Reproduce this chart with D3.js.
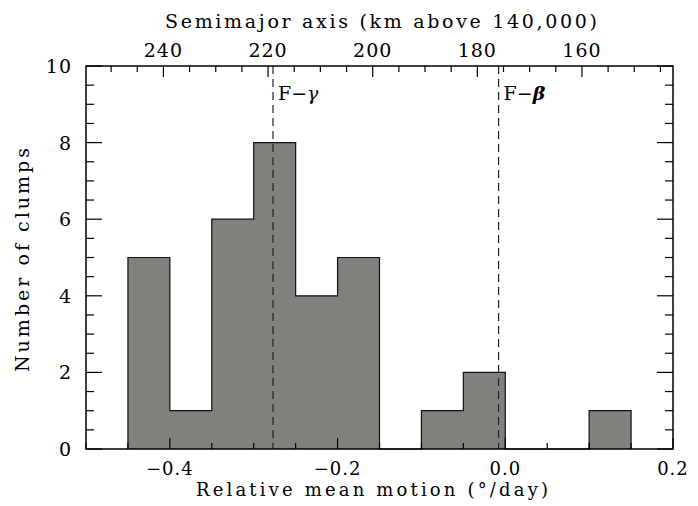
<!DOCTYPE html>
<html>
<head>
<meta charset="utf-8">
<script src="https://cdn.jsdelivr.net/npm/d3@7"></script>
<style>
  html, body { margin: 0; padding: 0; background: #fff; }
  svg text { font-family: "DejaVu Serif", serif; fill: #000; }
</style>
</head>
<body>
<svg id="chart" width="698" height="506"></svg>
<script>
// Histogram of clump positions relative to the F ring
const binStarts = [-0.45, -0.40, -0.35, -0.30, -0.25, -0.20, -0.15, -0.10, -0.05, 0.00, 0.05, 0.10];
const binCounts = [5, 1, 6, 8, 4, 5, 0, 1, 2, 0, 0, 1];
const binWidth = 0.05;

// Strand reference positions (relative mean motion, deg/day)
const strandNames = ["γ", "β"];
const strandPositions = [-0.277, -0.008];

// Axis ranges and tick values
const motionDomain = [-0.5, 0.2];
const motionMajorTicks = [-0.4, -0.2, 0.0, 0.2];
const motionTickLabels = ["\u22120.4", "\u22120.2", "0.0", "0.2"];
const countDomain = [0, 10];
const countMajorTicks = [0, 2, 4, 6, 8, 10];
const axisKmDomain = [254.8, 142.6];   // semimajor axis (km above 140,000) at the plot edges
const axisKmMajorTicks = [240, 220, 200, 180, 160];

const svg = d3.select("#chart");
const margin = { left: 86, right: 25, top: 66, bottom: 57 };
const W = 698, H = 506;
const x0 = margin.left, x1 = W - margin.right, y0 = margin.top, y1 = H - margin.bottom;

const x = d3.scaleLinear().domain(motionDomain).range([x0, x1]);
const y = d3.scaleLinear().domain(countDomain).range([y1, y0]);
const xTop = d3.scaleLinear().domain(axisKmDomain).range([x0, x1]);

// Histogram as a stepped area plus its outline
const stepPts = [{ v: binStarts[0], c: 0 }]
  .concat(binStarts.map((s, i) => ({ v: s, c: binCounts[i] })))
  .concat([{ v: binStarts[binStarts.length - 1] + binWidth, c: 0 }]);
svg.append("path")
  .attr("d", d3.area().x(d => x(d.v)).y0(y(0)).y1(d => y(d.c)).curve(d3.curveStepAfter)(stepPts))
  .attr("fill", "#7e817c");
svg.append("path")
  .attr("d", d3.line().x(d => x(d.v)).y(d => y(d.c)).curve(d3.curveStepAfter)(stepPts))
  .attr("fill", "none")
  .attr("stroke", "#111")
  .attr("stroke-width", 1.2);

// Strand markers
strandPositions.forEach((p, i) => {
  svg.append("line")
    .attr("x1", x(p)).attr("x2", x(p))
    .attr("y1", y0).attr("y2", y1)
    .attr("stroke", "#222")
    .attr("stroke-width", 1.2)
    .attr("stroke-dasharray", "8,5");
  const t = svg.append("text")
    .attr("x", x(p) + 5)
    .attr("y", y0 + 34)
    .attr("font-size", 19);
  t.append("tspan").text("F\u2212");
  t.append("tspan").attr("font-style", "italic")
    .attr("font-weight", i === 1 ? "bold" : "normal")
    .text(strandNames[i]);
});

// Ticks drawn inward on every side
const ticks = svg.append("g").attr("stroke", "#000").attr("stroke-width", 1.2);
function tickLines(vals, len, side) {
  vals.forEach(v => {
    let a;
    if (side === "bottom") a = [x(v), y1, x(v), y1 - len];
    else if (side === "top") a = [xTop(v), y0, xTop(v), y0 + len];
    else if (side === "left") a = [x0, y(v), x0 + len, y(v)];
    else a = [x1, y(v), x1 - len, y(v)];
    ticks.append("line").attr("x1", a[0]).attr("y1", a[1]).attr("x2", a[2]).attr("y2", a[3]);
  });
}
const motionMinor = d3.range(-0.5, 0.2001, 0.05).map(v => +v.toFixed(2))
  .filter(v => !motionMajorTicks.some(m => Math.abs(m - v) < 1e-6));
tickLines(motionMajorTicks, 11, "bottom");
tickLines(motionMinor, 6, "bottom");
const countMinor = d3.range(0, 10.001, 0.5).filter(v => v % 2 !== 0);
tickLines(countMajorTicks, 16, "left");
tickLines(countMinor, 8, "left");
tickLines(countMajorTicks, 16, "right");
tickLines(countMinor, 8, "right");
const kmMinor = d3.range(145, 255, 5).filter(v => v % 20 !== 0);
tickLines(axisKmMajorTicks, 11, "top");
tickLines(kmMinor, 6, "top");

// Frame
svg.append("rect")
  .attr("x", x0).attr("y", y0)
  .attr("width", x1 - x0).attr("height", y1 - y0)
  .attr("fill", "none").attr("stroke", "#000").attr("stroke-width", 1.5);

// Tick labels
svg.append("g").selectAll("text").data(motionMajorTicks).join("text")
  .attr("x", d => x(d)).attr("y", y1 + 26)
  .attr("text-anchor", "middle").attr("font-size", 18)
  .attr("letter-spacing", 1)
  .text((d, i) => motionTickLabels[i]);
svg.append("g").selectAll("text").data(countMajorTicks).join("text")
  .attr("x", x0 - 14).attr("y", d => y(d) + 7)
  .attr("text-anchor", "end").attr("font-size", 19)
  .attr("letter-spacing", 1)
  .text(d => d);
svg.append("g").selectAll("text").data(axisKmMajorTicks).join("text")
  .attr("x", d => xTop(d)).attr("y", y0 - 9)
  .attr("text-anchor", "middle").attr("font-size", 19)
  .attr("letter-spacing", 1)
  .text(d => d);

// Axis titles
svg.append("text")
  .attr("x", 196).attr("y", y1 + 47)
  .attr("font-size", 18)
  .attr("textLength", 352).attr("lengthAdjust", "spacing")
  .text("Relative mean motion (\u00b0/day)");
svg.append("text")
  .attr("x", 165).attr("y", 28)
  .attr("font-size", 19)
  .attr("textLength", 432).attr("lengthAdjust", "spacing")
  .text("Semimajor axis (km above 140,000)");
svg.append("text")
  .attr("transform", `translate(29,372) rotate(-90)`)
  .attr("font-size", 19)
  .attr("textLength", 224).attr("lengthAdjust", "spacing")
  .text("Number of clumps");
</script>
</body>
</html>
